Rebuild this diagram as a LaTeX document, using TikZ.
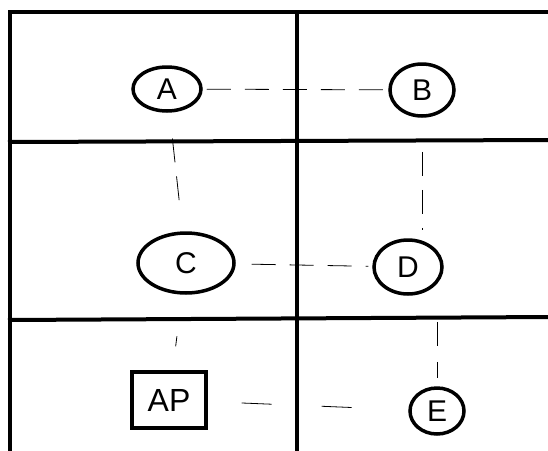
\documentclass[tikz,border=0pt]{standalone}
\usepackage{fontspec}
\setmainfont{Liberation Sans}
\usetikzlibrary{shapes.geometric}
\tikzset{
  grid/.style={line width=4pt, line cap=rect},
  oval/.style={ellipse, draw, line width=3.5pt, inner sep=0pt, font=\fontsize{30}{34}\selectfont},
  apbox/.style={rectangle, draw, line width=3.5pt, inner sep=0pt, font=\fontsize{32}{36}\selectfont},
  link/.style={line width=0.8pt, dash pattern=on 24pt off 14pt, shorten <=4pt, shorten >=4pt}
}
\begin{document}
\begin{tikzpicture}[x=1pt,y=-1pt]
\useasboundingbox (0,0) rectangle (548,450);
\fill[white] (0,0) rectangle (548,450);
% grid
\draw[grid] (10,452) -- (10,12) -- (550,12);
\draw[grid] (297,12) -- (297,452);
\draw[grid] (10,142) -- (550,140);
\draw[grid] (10,320) -- (550,317);
% nodes
\node[oval, minimum width=68pt, minimum height=44pt] (A) at (167,89) {A};
\node[oval, minimum width=64pt, minimum height=52pt] (B) at (422,90) {B};
\node[oval, minimum width=96pt, minimum height=60pt] (C) at (186,263) {C};
\node[oval, minimum width=68pt, minimum height=54pt] (D) at (408,267) {D};
\node[apbox, minimum width=74pt, minimum height=56pt] (AP) at (169,400) {AP};
\node[oval, minimum width=54pt, minimum height=46pt] (E) at (437,411) {E};
% connectors
\draw[link] (A) -- (B);
\draw[link, shorten <=26pt, shorten >=28pt] (A) -- (C);
\draw[link, shorten <=16pt] (C) -- (D);
\draw[link, shorten <=34pt, shorten >=8pt] (B.south) -- (D.north -| B.south);
\draw[link, dash pattern=on 14pt off 40pt, shorten <=42pt, shorten >=24pt] (C) -- (AP);
\draw[link, dash pattern=on 30pt off 50pt, shorten <=34pt, shorten >=34pt] (AP) -- (E);
\draw[link, dash pattern=on 24pt off 16pt, shorten <=26pt, shorten >=8pt] (E.north |- D.south) -- (E.north);
\end{tikzpicture}
\end{document}
